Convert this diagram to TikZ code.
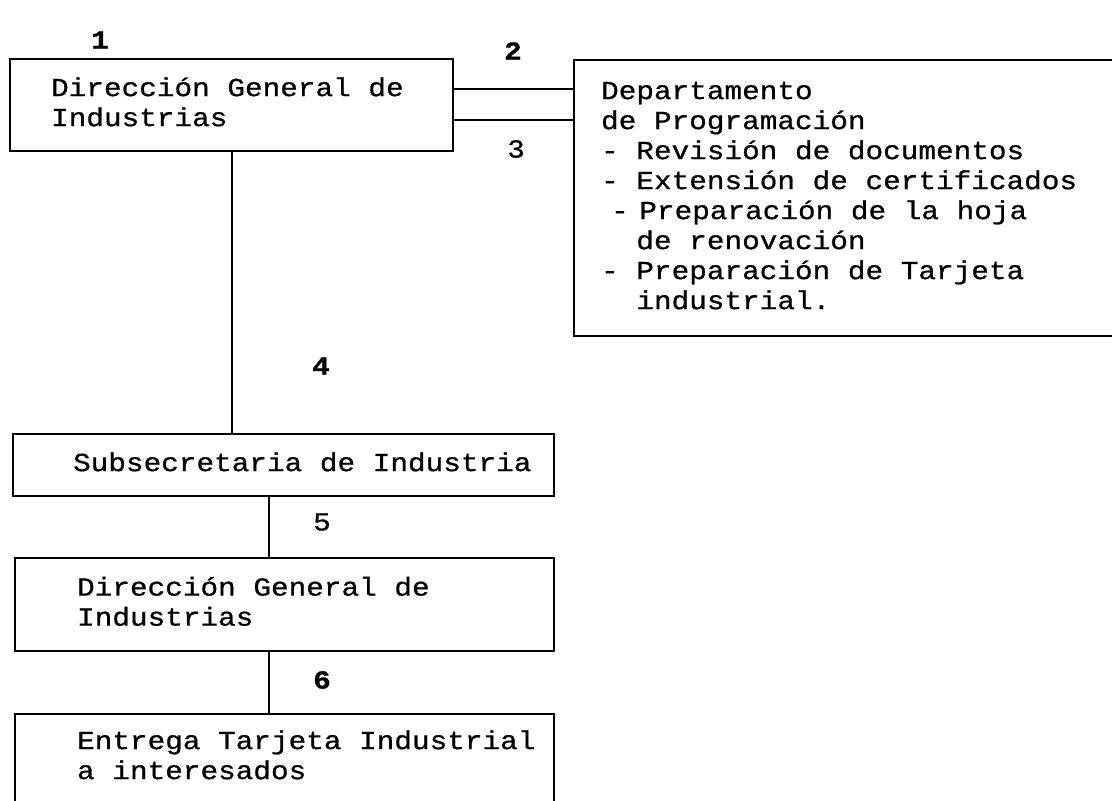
\documentclass[tikz,border=0pt]{standalone}
\usepackage{fontspec}
\newfontfamily\maquina[FakeStretch=1.13,FakeBold=0.8]{Liberation Mono}
\usetikzlibrary{positioning}

\newlength{\ancholetra}
\setlength{\ancholetra}{17.63pt}
\newcommand{\letra}{\maquina\fontsize{26}{30}\selectfont}
\newcommand{\sangria}{\hspace*{2\ancholetra}}

% cada espacio ocupa una letra entera
\ExplSyntaxOn
\tl_new:N \l_caja_texto_tl
\NewDocumentCommand{\lineas}{mm}
  {
    \tl_set:Nn \l_caja_texto_tl {#2}
    \tl_replace_all:Nnn \l_caja_texto_tl {~} {\hspace*{\ancholetra}}
    \begin{tabular}{@{\hspace{#1}}l@{}}\tl_use:N \l_caja_texto_tl\end{tabular}
  }
\ExplSyntaxOff

\begin{document}
\begin{tikzpicture}[x=1pt,y=-1pt,
    every node/.style={font=\letra},
    caja/.style={draw, line width=2.2pt, anchor=north west, align=left,
      inner xsep=0pt, inner ysep=0pt},
    paso/.style={font=\letra\bfseries},
    enlace/.style={line width=2.2pt}]
  \useasboundingbox (0,0) rectangle (1112,801);
  \clip (0,0) rectangle (1112,801);

  % cajas
  \node[caja, text width=443pt, minimum height=92pt] (dgi) at (9,58)
    {\lineas{41pt}{Dirección General de\\Industrias}};
  \node[caja, text width=600pt, minimum height=276pt] (prog) at (573,59)
    {\lineas{27pt}{Departamento\\de Programación\\%
- Revisión de documentos\\- Extensión de certificados\\%
\kern10pt-\kern-7pt{} Preparación de la hoja\\\sangria de renovación\\%
- Preparación de Tarjeta\\\sangria industrial.}};
  \node[caja, text width=541pt, minimum height=62pt] (sub) at (12,433)
    {\lineas{60pt}{Subsecretaria de Industria}};
  \node[caja, text width=539pt, minimum height=93pt] (dgii) at (14,557)
    {\lineas{62pt}{Dirección General de\\Industrias}};
  \node[caja, text width=539pt, minimum height=88pt] (entrega) at (14,713)
    {\lineas{62pt}{Entrega Tarjeta Industrial\\a interesados}};

  % pasos
  \node[paso] (p1) at (100,40) {1};
  \node[paso] (p2) at (513,51) {2};
  \node (p3) at (516,149) {3};
  \node[paso] (p4) at (321,366) {4};
  \node (p5) at (322,522) {5};
  \node[paso] (p6) at (322,680) {6};

  % enlaces
  \draw[enlace] ([yshift=16pt]dgi.east) -- ([yshift=16pt]dgi.east -| prog.west);
  \draw[enlace] ([yshift=-15pt]dgi.east) -- ([yshift=-15pt]dgi.east -| prog.west);
  \draw[enlace] (dgi.south) -- (dgi.south |- sub.north);
  \draw[enlace] ([xshift=-14.5pt]sub.south) -- ([xshift=-14.5pt]sub.south |- dgii.north);
  \draw[enlace] ([xshift=-15.5pt]dgii.south) -- ([xshift=-15.5pt]dgii.south |- entrega.north);
\end{tikzpicture}
\end{document}
